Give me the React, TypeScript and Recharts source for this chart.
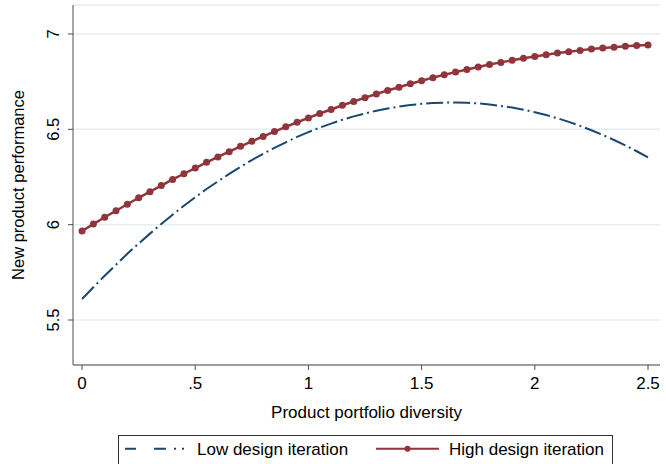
import { CartesianGrid, Legend, Line, LineChart, XAxis, YAxis } from 'recharts'

const xValues = [
  0, 0.05, 0.1, 0.15, 0.2, 0.25, 0.3, 0.35, 0.4, 0.45, 0.5, 0.55, 0.6, 0.65, 0.7, 0.75, 0.8,
  0.85, 0.9, 0.95, 1, 1.05, 1.1, 1.15, 1.2, 1.25, 1.3, 1.35, 1.4, 1.45, 1.5, 1.55, 1.6, 1.65,
  1.7, 1.75, 1.8, 1.85, 1.9, 1.95, 2, 2.05, 2.1, 2.15, 2.2, 2.25, 2.3, 2.35, 2.4, 2.45, 2.5,
]

const lowIteration = [
  5.61, 5.672, 5.732, 5.79, 5.847, 5.901, 5.953, 6.004, 6.052, 6.099, 6.144, 6.187, 6.227,
  6.266, 6.303, 6.339, 6.372, 6.403, 6.432, 6.46, 6.485, 6.509, 6.53, 6.55, 6.568, 6.583,
  6.597, 6.609, 6.619, 6.627, 6.634, 6.638, 6.64, 6.641, 6.639, 6.636, 6.63, 6.623, 6.614,
  6.603, 6.59, 6.575, 6.558, 6.539, 6.518, 6.495, 6.471, 6.444, 6.416, 6.385, 6.353,
]

const highIteration = [
  5.967, 6.003, 6.039, 6.073, 6.107, 6.141, 6.173, 6.205, 6.237, 6.267, 6.297, 6.327, 6.355,
  6.383, 6.411, 6.437, 6.463, 6.488, 6.513, 6.537, 6.56, 6.583, 6.604, 6.626, 6.646, 6.666,
  6.685, 6.704, 6.721, 6.739, 6.755, 6.771, 6.786, 6.8, 6.814, 6.827, 6.84, 6.851, 6.862,
  6.873, 6.882, 6.891, 6.9, 6.907, 6.914, 6.921, 6.926, 6.931, 6.936, 6.939, 6.942,
]

const xTicks = [0, 0.5, 1, 1.5, 2, 2.5]
const xTickLabels = ['0', '.5', '1', '1.5', '2', '2.5']
const yTicks = [5.5, 6, 6.5, 7]
const yTickLabels = ['5.5', '6', '6.5', '7']

const data = xValues.map((x, i) => ({ x, low: lowIteration[i], high: highIteration[i] }))

const FONT = '"Liberation Sans", Arial, sans-serif'
const NAVY = '#1a476f'
const MAROON = '#90353b'
const AXIS = '#4d4d4d'

function YTick({ x, y, payload }: any) {
  const i = yTicks.indexOf(payload.value)
  return (
    <text
      x={x}
      y={y}
      transform={`rotate(-90 ${x} ${y})`}
      textAnchor="middle"
      fontSize={16.5}
      fontFamily={FONT}
      fill="#000"
    >
      {yTickLabels[i]}
    </text>
  )
}

// legend sits in a box whose bottom edge is cut off by the page edge
function LegendBox() {
  return (
    <div style={{ position: 'relative', width: 666, height: 33, fontFamily: FONT }}>
      <div
        style={{
          position: 'absolute',
          left: 118,
          top: 3.5,
          width: 495,
          height: 40,
          border: '1px solid #333',
          boxSizing: 'border-box',
        }}
      />
      <svg width={666} height={33} style={{ position: 'absolute', left: 0, top: 0 }}>
        <line x1={125} x2={185} y1={17.7} y2={17.7} stroke={NAVY} strokeWidth={2} strokeDasharray="11 18 12 8 2 6 2 100" />
        <text x={197} y={24} fontSize={17} fontFamily={FONT} fill="#000">
          Low design iteration
        </text>
        <line x1={376} x2={439} y1={17.7} y2={17.7} stroke={MAROON} strokeWidth={2} />
        <circle cx={407.5} cy={17.7} r={3} fill={MAROON} />
        <text x={449} y={24} fontSize={17} fontFamily={FONT} fill="#000">
          High design iteration
        </text>
      </svg>
    </div>
  )
}

export default function App() {
  return (
    <div style={{ position: 'absolute', left: 0, top: 0, width: 666, height: 464, background: '#fff' }}>
      <LineChart width={666} height={464} data={data} margin={{ top: 5, right: 6, left: 0, bottom: 0 }}>
        <CartesianGrid horizontal vertical={false} stroke="#e4eef0" strokeWidth={1.5} />
        <XAxis
          dataKey="x"
          type="number"
          domain={[-0.04, 2.553]}
          ticks={xTicks}
          allowDataOverflow
          height={66}
          tickSize={5}
          tickMargin={7}
          stroke={AXIS}
          tickFormatter={(v: number) => xTickLabels[xTicks.indexOf(v)]}
          tick={{ fontSize: 17, fontFamily: FONT, fill: '#000' }}
          label={({ viewBox }: any) => (
            <text
              x={viewBox.x + viewBox.width / 2}
              y={418}
              textAnchor="middle"
              fontSize={17}
              fontFamily={FONT}
              fill="#000"
            >
              Product portfolio diversity
            </text>
          )}
        />
        <YAxis
          type="number"
          domain={[5.264, 7.152]}
          ticks={yTicks}
          allowDataOverflow
          width={73}
          tickSize={5}
          tickMargin={9}
          stroke={AXIS}
          tick={<YTick />}
          label={({ viewBox }: any) => {
            const cy = viewBox.y + viewBox.height / 2
            return (
              <text
                x={24}
                y={cy}
                transform={`rotate(-90 24 ${cy})`}
                textAnchor="middle"
                fontSize={16.5}
                fontFamily={FONT}
                fill="#000"
              >
                New product performance
              </text>
            )
          }}
        />
        <Legend verticalAlign="bottom" wrapperStyle={{ left: 0, width: 666, bottom: 0 }} content={<LegendBox />} />
        <Line
          type="linear"
          dataKey="low"
          name="Low design iteration"
          stroke={NAVY}
          strokeWidth={2}
          strokeDasharray="17 4 2 4"
          dot={false}
          activeDot={false}
          isAnimationActive={false}
        />
        <Line
          type="linear"
          dataKey="high"
          name="High design iteration"
          stroke={MAROON}
          strokeWidth={2.5}
          dot={{ r: 3.5, fill: MAROON, stroke: 'none' }}
          activeDot={false}
          isAnimationActive={false}
        />
      </LineChart>
    </div>
  )
}
